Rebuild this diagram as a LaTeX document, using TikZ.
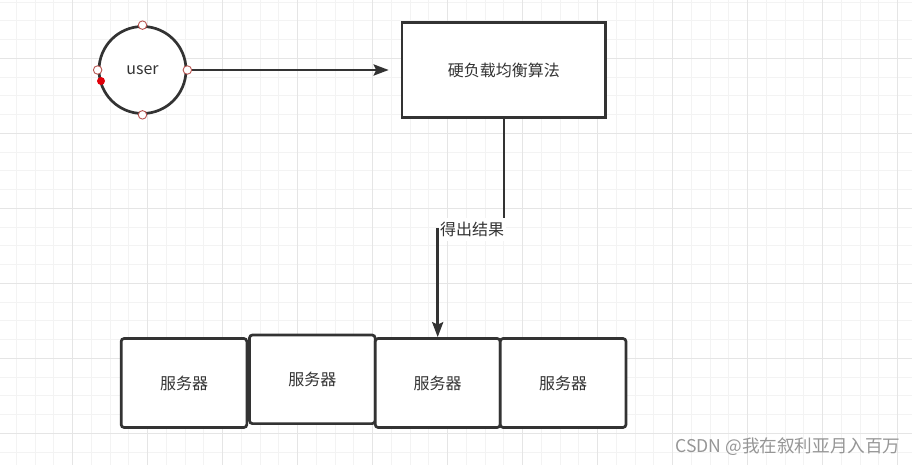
\documentclass[tikz,border=0pt]{standalone}
\usepackage{fontspec}
\newfontfamily\cjk{Noto Sans CJK SC}
\usetikzlibrary{arrows.meta}
\definecolor{ink}{RGB}{51,51,51}
\definecolor{minorgrid}{RGB}{243,243,243}
\definecolor{majorgrid}{RGB}{229,229,229}
\definecolor{portred}{RGB}{184,84,80}
\definecolor{hotred}{RGB}{224,0,10}
\definecolor{wmark}{RGB}{150,150,150}
\tikzset{
  minorline/.style={draw=minorgrid, line width=1pt},
  majorline/.style={draw=majorgrid, line width=1pt},
  txt/.style={font=\cjk\fontsize{16}{19}\selectfont, text=ink},
  usernode/.style={circle, draw=ink, line width=2.7pt, fill=white, minimum size=87pt, inner sep=0pt, txt},
  algobox/.style={rectangle, draw=ink, line width=2.7pt, fill=white, minimum width=203.7pt, minimum height=94.6pt, inner sep=0pt, txt},
  serverbox/.style={rectangle, rounded corners=3pt, draw=ink, line width=2.7pt, fill=white, minimum height=89pt, inner sep=0pt, txt},
  port/.style={circle, draw=portred, fill=white, line width=0.9pt, minimum size=8.5pt, inner sep=0pt},
  hotdot/.style={circle, fill=hotred, minimum size=8pt, inner sep=0pt},
  conn/.style={draw=ink, line width=2.8pt, -{Stealth[length=15pt,width=11pt,inset=2.5pt]}},
  edgelabel/.style={fill=white, inner sep=0pt, minimum width=67pt, minimum height=23pt, txt},
}
\begin{document}
\begin{tikzpicture}[x=1pt,y=-1pt]
  \useasboundingbox (0,0) rectangle (912,465);
  \fill[white] (0,0) rectangle (912,465);
  \begin{scope}
    \clip (0,0) rectangle (912,465);
    \foreach \i in {0,...,49} \draw[minorline] ({-2.3+18.75*\i},0) -- ({-2.3+18.75*\i},465);
    \foreach \i in {0,...,24} \draw[minorline] (0,{2.05+18.75*\i}) -- (912,{2.05+18.75*\i});
    \foreach \i in {0,...,11} \draw[majorline] ({72.7+75*\i},0) -- ({72.7+75*\i},465);
    \foreach \i in {0,...,5} \draw[majorline] (0,{58.3+75*\i}) -- (912,{58.3+75*\i});
  \end{scope}

  % nodes
  \node[usernode] (user) at (142.5,70) {user};
  \node[algobox] (algo) at (503.9,70) {硬负载均衡算法};
  \node[serverbox, minimum width=125.7pt] (s1) at (184,383) {服务器};
  \node[serverbox, minimum width=125.7pt, minimum height=88.6pt] (s2) at (312.3,379.3) {服务器};
  \node[serverbox, minimum width=125pt] (s3) at (437.7,383) {服务器};
  \node[serverbox, minimum width=125.8pt] (s4) at (563.1,383) {服务器};

  % connectors
  \draw[conn] (user.east) -- ([xshift=-12pt]algo.west);
  \draw[conn] (algo.south) -- ++(0,111) -| (s3.north);
  \node[edgelabel] (lbl) at (472,229.5) {得出结果};

  % ports on the user circle
  \node[port] (pt) at (user.north) {};
  \node[port] (pb) at (user.south) {};
  \node[port] (pl) at (user.west) {};
  \node[port] (pr) at (user.east) {};
  \node[hotdot] (hd) at (101,81) {};

  % watermark
  \node[anchor=east, inner sep=0pt, font=\cjk\fontsize{17.6}{20}\selectfont, text=wmark] (wm) at (900.7,446.7) {CSDN @我在叙利亚月入百万};
\end{tikzpicture}
\end{document}
